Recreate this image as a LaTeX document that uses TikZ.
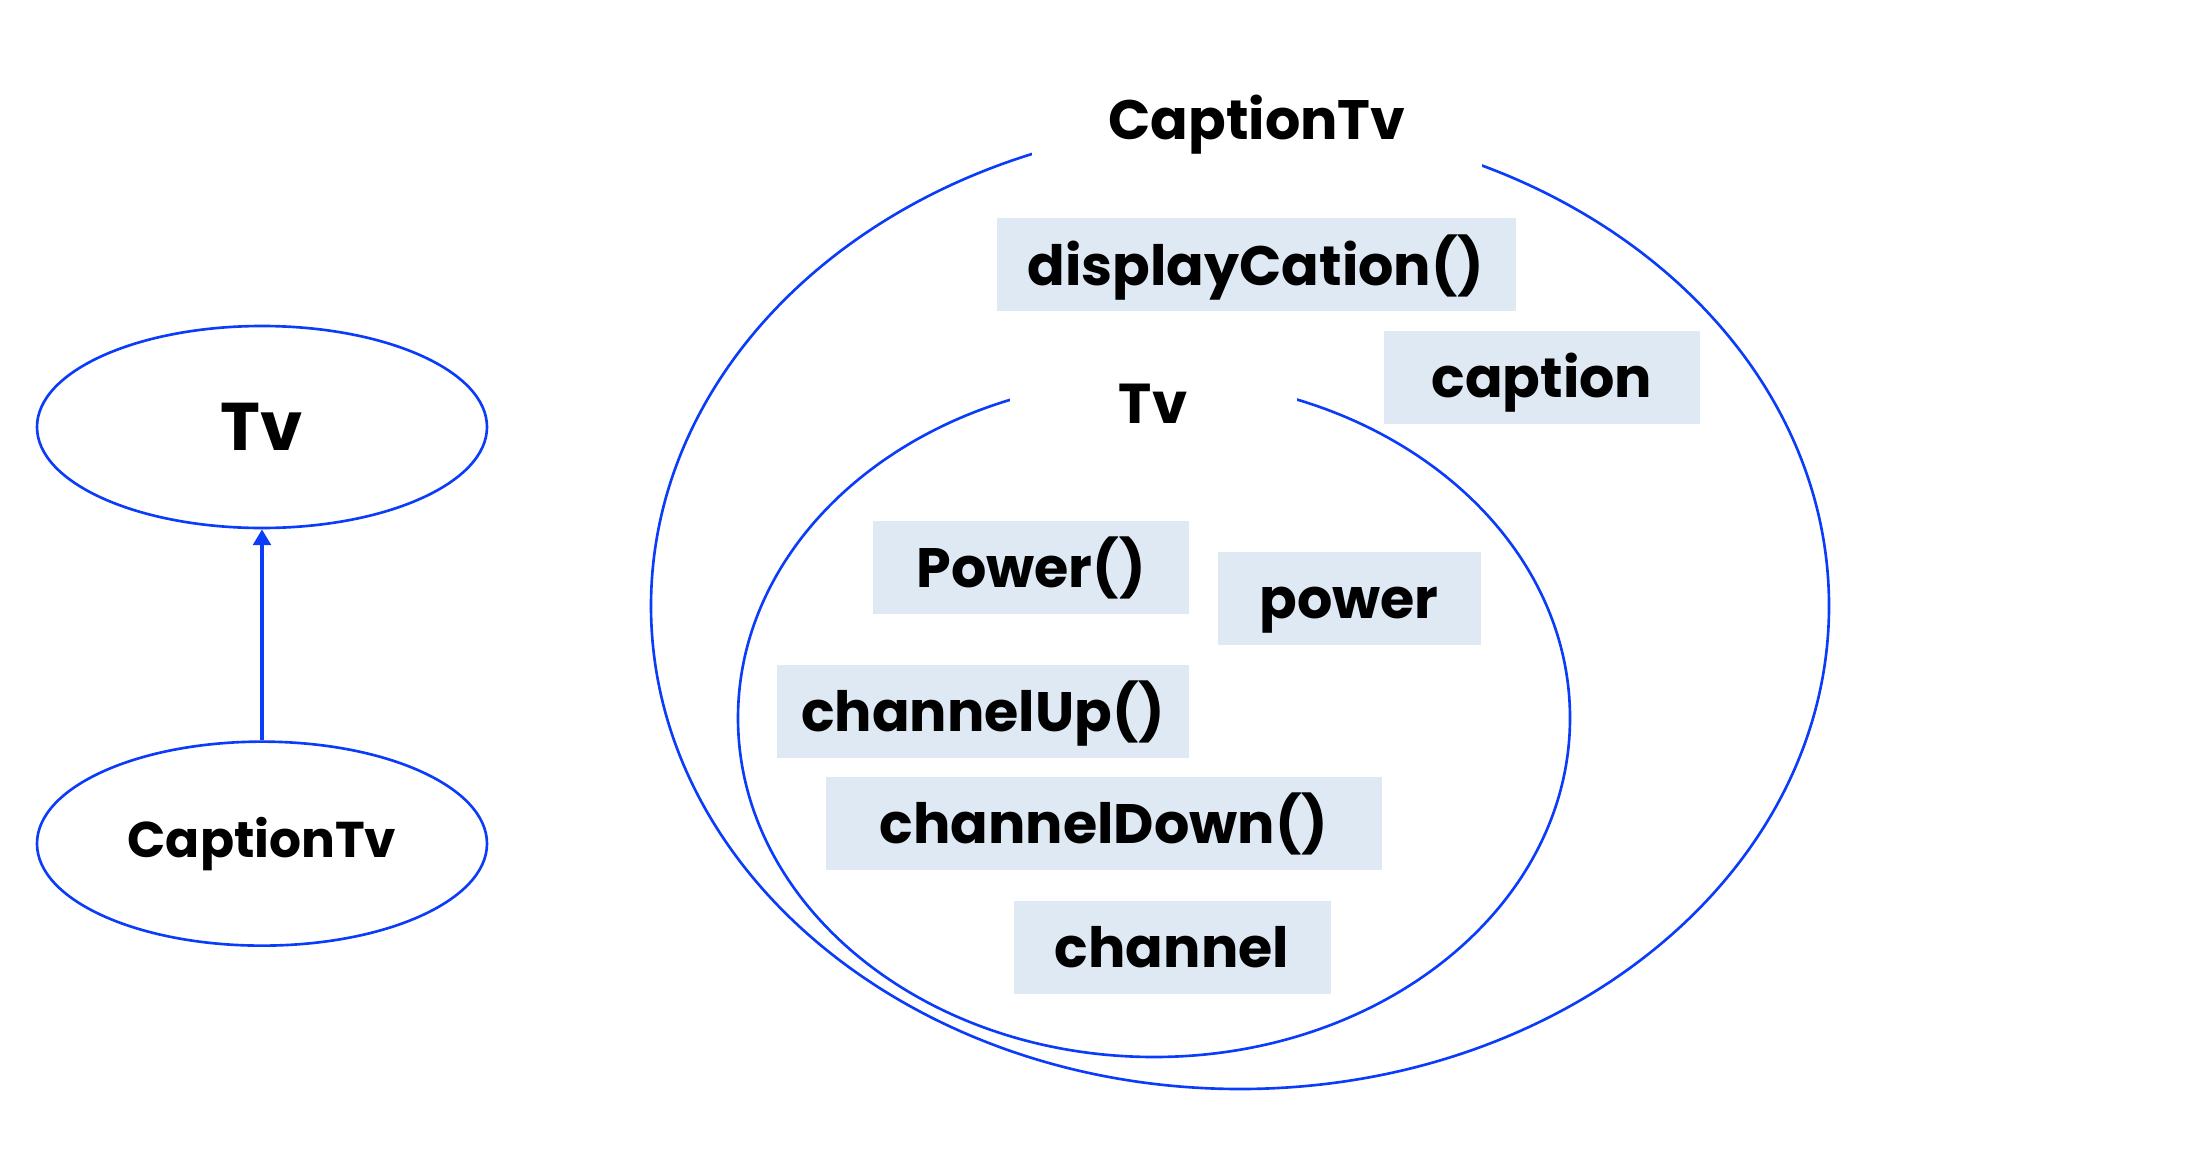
\documentclass[tikz,border=0pt]{standalone}
\usepackage{fontspec}
\setmainfont{Poppins}
\usetikzlibrary{positioning,arrows.meta,shapes.geometric}
\definecolor{linkblue}{RGB}{10,60,250}
\definecolor{memberfill}{RGB}{223,233,244}

\begin{document}
\begin{tikzpicture}[
  every node/.style={font=\bfseries},
  cls/.style={draw=linkblue, line width=0.75pt, ellipse, inner sep=0pt},
  scope box/.style={draw=linkblue, line width=0.75pt, ellipse, inner sep=0pt},
  tag/.style={fill=white, inner sep=0pt, minimum height=0.8cm},
  member/.style={fill=memberfill, inner sep=0pt, minimum height=0.93cm, text height=15pt, text depth=3.6pt, font=\fontsize{15.8}{19}\selectfont\bfseries},
  arr/.style={-{Triangle[width=5pt,length=4.5pt]}, line width=1.1pt, linkblue}
]
  \useasboundingbox (0,0) rectangle (21.94,-11.52);

  % class diagram
  \node[cls, minimum width=4.5cm, minimum height=2.02cm, font=\fontsize{19.2}{23}\selectfont\bfseries] (tvcls) at (2.62,-4.27) {Tv};
  \node[cls, minimum width=4.5cm, minimum height=2.04cm, below=2.11cm of tvcls, font=\fontsize{14.3}{18}\selectfont\bfseries] (captioncls) {CaptionTv};
  \draw[arr] (captioncls.north) -- (tvcls.south);

  % object layout
  \node[scope box, minimum width=11.78cm, minimum height=9.66cm] (outer) at (12.40,-6.06) {};
  \node[scope box, minimum width=8.32cm, minimum height=6.78cm] (inner) at (11.54,-7.18) {};
  \node[tag, minimum width=4.5cm, minimum height=1cm, font=\fontsize{15.8}{19}\selectfont\bfseries] (outerlbl) at (12.57,-1.25) {CaptionTv};
  \node[tag, minimum width=2.87cm, font=\fontsize{16}{19}\selectfont\bfseries] (innerlbl) at (11.53,-4.04) {Tv};

  \node[member, minimum width=5.19cm] (display) at (12.56,-2.65) {displayCation()};
  \node[member, minimum width=3.16cm] (caption) at (15.42,-3.77) {caption};
  \node[member, minimum width=3.16cm] (powerfn) at (10.31,-5.67) {Power()};
  \node[member, minimum width=2.63cm] (power) at (13.49,-5.98) {power};
  \node[member, minimum width=4.12cm] (chup) at (9.83,-7.11) {channelUp()};
  \node[member, minimum width=5.56cm] (chdown) at (11.04,-8.23) {channelDown()};
  \node[member, minimum width=3.17cm] (channel) at (11.72,-9.47) {channel};
\end{tikzpicture}
\end{document}
